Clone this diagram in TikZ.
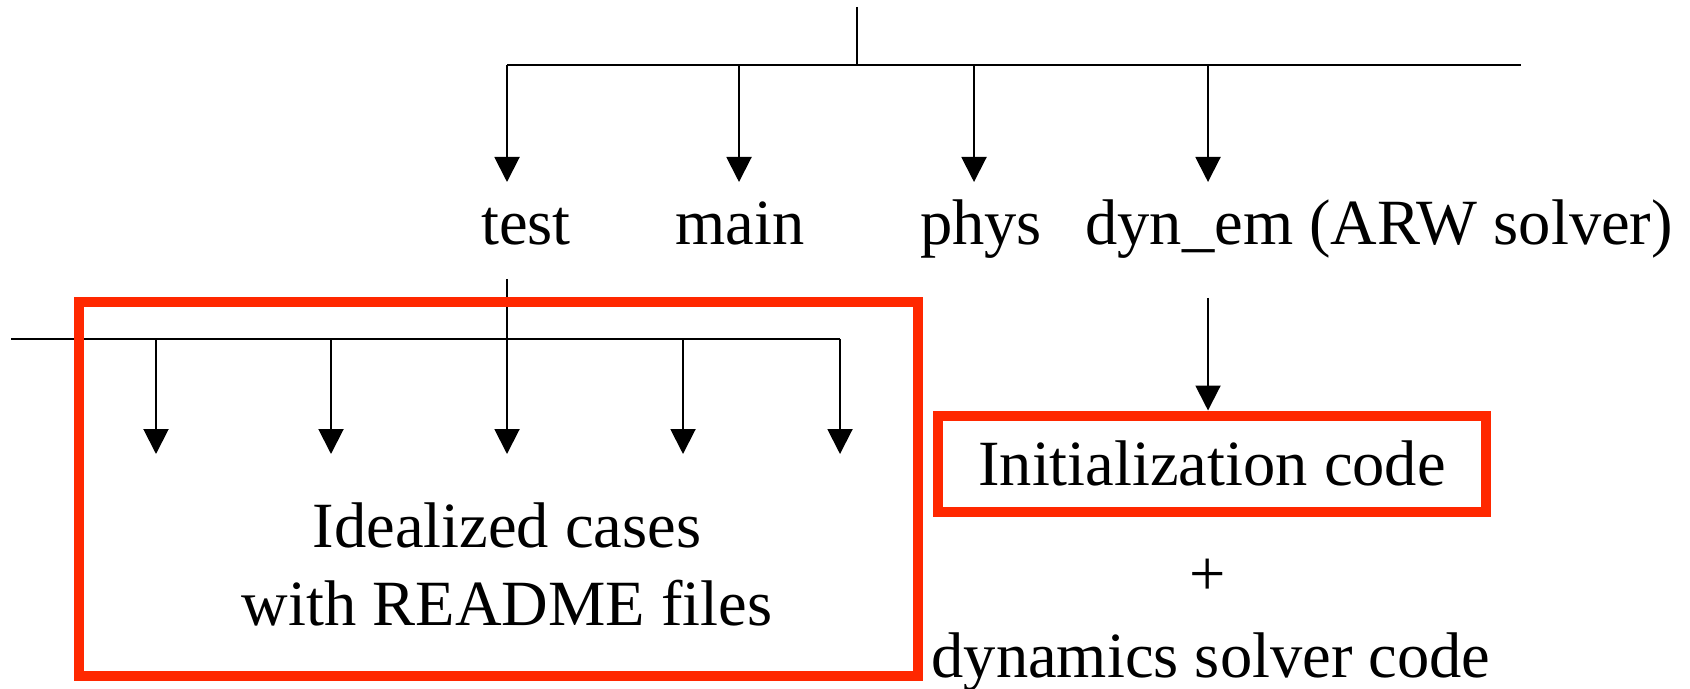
\documentclass[tikz,border=0pt]{standalone}
\usepackage{fontspec}
\setmainfont{Liberation Serif}
\usetikzlibrary{arrows.meta}
\definecolor{boxred}{RGB}{255,40,0}
\tikzset{
  lbl/.style={inner sep=0pt, font=\fontsize{32.25}{39}\selectfont},
  wire/.style={draw=black, line width=1pt},
  feed/.style={wire, -{Triangle[length=12.5pt,width=12.5pt]}},
  redframe/.style={draw=boxred, line width=5pt},
}
\begin{document}
\begin{tikzpicture}[x=0.5pt,y=-0.5pt]
\useasboundingbox (0,0) rectangle (1690,689);

% top level of the tree
\coordinate (root) at (857,7);
\coordinate (busL) at (507,65);
\coordinate (busR) at (1521,65);
\draw[wire] (root) -- (root |- busL);
\draw[wire] (busL) -- (busR);

\node[lbl, anchor=base] (test) at (526,245) {test};
\node[lbl, anchor=base] (main) at (740,245) {main};
\node[lbl, anchor=base] (phys) at (981,245) {phys};
\node[lbl, anchor=base west] (dyn) at (1085,245) {dyn\_em (ARW solver)};

\foreach \xx/\nm in {507/t, 739/m, 974/p, 1208/d}{
  \coordinate (tip\nm) at (\xx,182);
  \draw[feed] (tip\nm |- busL) -- (tip\nm);
}

% sub-directories of test
\coordinate (subtop) at (507,279);
\coordinate (subL) at (11,339);
\coordinate (subR) at (840,339);
\draw[wire] (subL) -- (subR);
\foreach \xx/\nm in {156/a, 331/b, 507/c, 683/d, 840/e}{
  \coordinate (case\nm) at (\xx,454);
}
\draw[feed] (subtop) -- (casec);
\foreach \nm in {a,b,d,e}{
  \draw[feed] (case\nm |- subL) -- (case\nm);
}

\draw[redframe] (79,302) rectangle (918,676);
\node[lbl, anchor=base] (ideal1) at (507,547) {Idealized cases};
\node[lbl, anchor=base] (ideal2) at (507,625) {with README files};

% dyn_em branch
\node[redframe, lbl, minimum width=274pt, minimum height=48pt] (init) at (1212,463.5) {Initialization code};
\coordinate (dyntop) at (1208,298);
\draw[feed] (dyntop) -- (dyntop |- init.north);

\node[lbl] (plus) at (1208,577) {+};
\node[lbl, anchor=base] (solver) at (1211,677) {dynamics solver code};
\end{tikzpicture}
\end{document}
